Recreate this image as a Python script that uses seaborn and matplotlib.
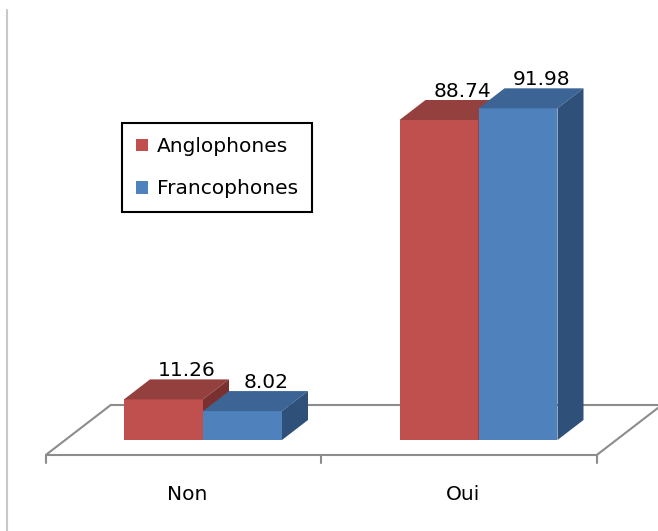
import numpy as np
import pandas as pd
import matplotlib
matplotlib.use('Agg')
import matplotlib.pyplot as plt
import seaborn as sns
from matplotlib.patches import Polygon
from matplotlib.lines import Line2D

# data
reponses = ['Non', 'Oui']
groupes = ['Anglophones', 'Francophones']
anglophones = [11.26, 88.74]
francophones = [8.02, 91.98]

df = pd.DataFrame({
    'reponse': reponses * 2,
    'groupe': [groupes[0]] * 2 + [groupes[1]] * 2,
    'pct': anglophones + francophones,
})

# colours (front, top, side)
RED = '#C0504D'
BLUE = '#4F81BD'
tops = ['#94403E', '#3C6495']
sides = ['#7A302E', '#2F5079']
FLOOR = '#8C8C8C'

# pixel scales for the fake 3d look
PXX = 275.5   # px per category
PXV = 3.606   # px per percent
DX = 26 / PXX
DY = 20 / PXV

def shift(x, y, d):
    return x + d * DX, y + d * DY

sns.set_theme(style='white')
plt.rcParams['font.family'] = ['DejaVu Sans']
plt.rcParams['text.color'] = 'black'

fig = plt.figure(figsize=(6.58, 5.31), dpi=100)
ax = fig.add_axes([0, 0, 1, 1])

sns.barplot(df, x='reponse', y='pct', hue='groupe', hue_order=groupes,
            palette=[RED, BLUE], saturation=1, width=0.5735, errorbar=None,
            linewidth=0, ax=ax)

ax.set_xlim(-203 / PXX, (658 - 203) / PXX)
ax.set_ylim(-(531 - 440) / PXV, 440 / PXV)
ax.axis('off')

# floor
fl = [shift(-0.5, 0, -0.75), shift(1.5, 0, -0.75), shift(1.5, 0, 1.75), shift(-0.5, 0, 1.75)]
ax.add_patch(Polygon(fl, closed=True, facecolor='white', edgecolor=FLOOR, lw=1.5, zorder=1))
for t in [-0.5, 0.5, 1.5]:
    x, y = shift(t, 0, -0.75)
    ax.plot([x, x], [y, y - 8 / PXV], color=FLOOR, lw=1.5, zorder=1)

# 3d faces + value labels
for k, cont in enumerate(ax.containers):
    for bar in cont:
        x0 = bar.get_x()
        w = bar.get_width()
        h = bar.get_height()
        bar.set_zorder(2 + k)
        top = [(x0, h), (x0 + w, h), (x0 + w + DX, h + DY), (x0 + DX, h + DY)]
        side = [(x0 + w, 0), (x0 + w + DX, DY), (x0 + w + DX, h + DY), (x0 + w, h)]
        ax.add_patch(Polygon(top, closed=True, facecolor=tops[k], edgecolor='none', zorder=2 + k))
        ax.add_patch(Polygon(side, closed=True, facecolor=sides[k], edgecolor='none', zorder=2 + k))
        ax.text(x0 + w / 2 + 0.9 * DX, h + DY + 3 / PXV, f'{h:.2f}', ha='center',
                va='baseline', fontsize=14.5, color='black', zorder=6)

# category labels
for i, r in enumerate(reponses):
    x, _ = shift(i, 0, -0.6)
    ax.text(x, -15.25, r, ha='center', va='center', fontsize=14.5, color='black')

sns.move_legend(ax, 'upper left', bbox_to_anchor=(122 / 658, 1 - 123 / 531),
                bbox_transform=fig.transFigure, title=None, frameon=True,
                fancybox=False, edgecolor='black', framealpha=1, fontsize=14.5,
                handlelength=0.6, handleheight=0.6, handletextpad=0.45,
                labelspacing=1.15, borderpad=0.7, borderaxespad=0,
                labelcolor='black')
ax.get_legend().get_frame().set_linewidth(1.5)

# chart area border on the left
fig.add_artist(Line2D([7 / 658, 7 / 658], [0, 1 - 10 / 531], color='#C8C8C8', lw=1.5))

fig.savefig('out.png', dpi=100)
